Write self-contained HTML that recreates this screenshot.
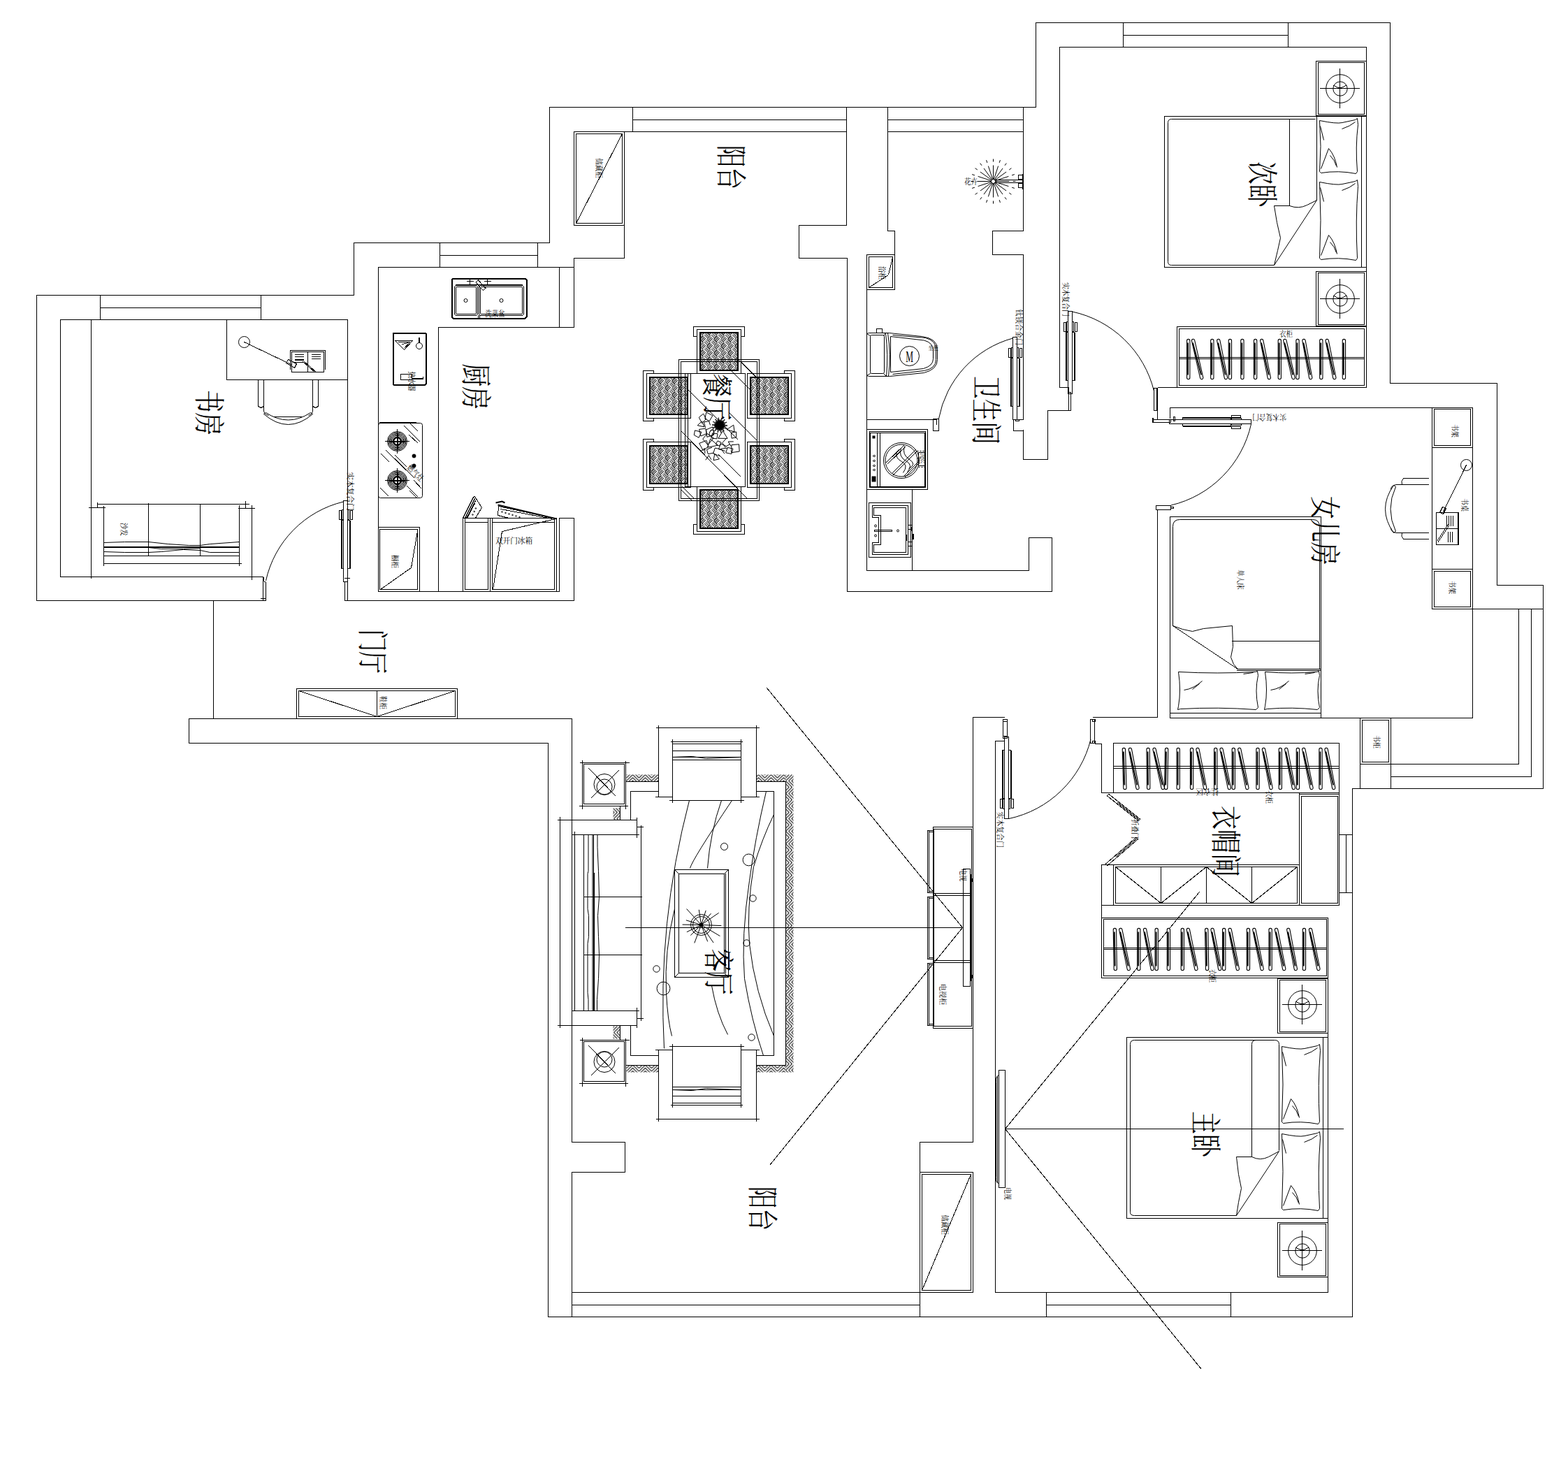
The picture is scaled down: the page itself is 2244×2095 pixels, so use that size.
<!DOCTYPE html>
<html><head><meta charset="utf-8"><title>Floor plan</title>
<style>html,body{margin:0;padding:0;background:#fff;font-family:"Liberation Sans",sans-serif}svg{display:block}</style>
</head><body>
<svg width="2244" height="2095" viewBox="0 0 2244 2095">
<defs>
<pattern id="bw" width="14.14" height="14.14" patternUnits="userSpaceOnUse" patternTransform="translate(1001,475) rotate(45)">
<rect width="14.14" height="14.14" fill="#fff"/>
<path d="M0,0.20H7.07M7.07,7.27H14.14M7.27,0V7.07M0.20,7.07V14.14M0,2.56H7.07M7.07,9.63H14.14M9.63,0V7.07M2.56,7.07V14.14M0,4.91H7.07M7.07,11.98H14.14M11.98,0V7.07M4.91,7.07V14.14" stroke="#000" stroke-width="1.1" fill="none"/>
</pattern>
<pattern id="hz" width="18" height="4.24" patternUnits="userSpaceOnUse" patternTransform="translate(896,1108)"><path d="M0,-3.72L9,-12.72L18,-3.72M0,0.52L9,-8.48L18,0.52M0,4.76L9,-4.24L18,4.76M0,9.00L9,0.00L18,9.00M0,13.24L9,4.24L18,13.24" stroke="#000" stroke-width="1" fill="none"/></pattern>
<pattern id="hz2" width="4.24" height="18" patternUnits="userSpaceOnUse" patternTransform="translate(1124,1108)"><path d="M-3.72,0L-12.72,9L-3.72,18M0.52,0L-8.48,9L0.52,18M4.76,0L-4.24,9L4.76,18M9.00,0L0.00,9L9.00,18M13.24,0L4.24,9L13.24,18" stroke="#000" stroke-width="1" fill="none"/></pattern>
</defs>
<rect width="2244" height="2095" fill="#fff"/>
<g transform="translate(0.5,0.5)" fill="none" stroke="#000" stroke-width="1">
<g shape-rendering="crispEdges">
<path stroke-linecap="square" d="M52,422V859M52,422H506M506,347V422M52,859H380M86,457V825M86,457H497M86,825H376M130,457V827M143,422V457M373,422V457M143,440H373M497,457V718M506,347H786M786,153V347M629,347V382M769,347V382M629,365H769M541,382H821M541,382V846M821,369V468M800,382V468M627,468H821M627,468V846M541,846H800M494,859H821M821,741V859M800,741V846M800,741H821M786,153H1482M1482,32V153M905,153V188M1211,153V322M905,171H1211M821,188H1211M893,188V369M821,369H893M1143,322H1211M1143,322V369M1143,369H1212M1212,369V846M1270,153V330M1270,330H1280M1280,330V364M1270,171H1464M1270,188H1464M1464,153V330M1420,330H1464M1420,330V364M1420,364H1464M1464,364V600M1464,615V657M1464,657H1499M1499,587V657M1499,587H1532M1240,364V816M1240,364H1280M1212,846H1505M1505,769V846M1472,769H1505M1472,769V816M1240,816H1472M1240,600H1339M1305,700V816M1482,32H1989M1989,32V548M1989,548H2142M2142,548V837M2142,837H2208M2208,837V1128M1935,1128H2208M1935,1128V1884M784,1884H1935M1516,67V554M1516,67H1955M1955,67V554M1657,554H1955M1607,32V67M1843,32V67M1607,50H1843M1516,554H1528M1674,583H2107M2107,583V1027M1674,1027H2107M1674,583V598M1674,739V1027M1656,729V1026M1564,1026H1656M2049,871H2208M2173,871V1093M2191,871V1111M1990,1093H2173M1990,1111H2191M1990,1027V1128M1946,1027V1128M1946,1027H1990M1392,1026H1437M1392,1026V1634M1424,1060V1849M1424,1060H1437M1567,1064H1576M1576,1064V1134M1576,1134H1916M1916,1063V1295M1859,1134V1295M1916,1194H1935M1916,1277H1935M1926,1194V1277M1576,1295H1916M1576,1237V1399M1576,1237H1859M1900,1313V1849M1424,1849H1900M1497,1849V1884M1761,1849V1884M1497,1867H1761M818,1028V1634M784,1063V1884M818,1634H894M894,1634V1677M818,1677H894M818,1677V1884M1316,1634H1392M1316,1634V1884M1392,1677V1849M818,1849H1316M818,1867H1316M305,859V1028M270,1028H818M270,1028V1063M270,1063H784M324,457H497V543H324ZM497,457V859M417,503H463V532H417ZM440,503V532M422,507H434M422,510H434M422,514H434M422,518H434M422,515H434M446,507H458M446,510H458M446,513H458M369,543V581M377,543V587M447,543V587M455,543V581M392,596H431M139,721H356M139,719V726M351,717V727M127,726H150M148,724V809M341,727H364M342,723V809M360,723V829M212,720V795M286,721V795M148,795H342M148,806H345M148,782H342M148,783H342M376,826V859M373,856H380M493,832H497V859H493ZM493,827H500M652,407H747M668,402H677M672,399V406M693,402H702M697,399V406M684,451V455M686,451V455M564,551H607M599,483V490M600,483V490M573,535H589V543H573ZM589,541H605M589,542H605M605,539V542M543,604H595M543,605H595M551,631H585M568,614V648M551,687H585M568,670V704M541,754H600V846H541ZM543,757H597V843H543ZM662,741H796V846H662ZM665,741V843M665,747H698M704,747H793M698,741V843M701,741V846M704,741V843M793,741V843M665,843H698M704,843H793M821,188H893V322H821ZM824,191H890V319H824ZM997,471H1060V534H997ZM997,696H1060V760H997ZM925,534H988V598H925ZM1069,534H1132V598H1069ZM925,632H988V697H925ZM1069,632H1132V697H1069ZM971,514H1086V716H971ZM974,517H1083V713H974ZM980,534H1066V696H980ZM984,534V696M1240,364H1280V414H1240ZM1243,367H1277V411H1243ZM1424,257H1464M1424,261H1464M1457,250H1464V256H1457ZM1457,262H1464V268H1457ZM1254,470H1262V476H1254ZM1240,614H1327V700H1240ZM1244,617H1324V697H1244ZM1245,619H1323V696H1245ZM1255,619V696M1259,619V696M1314,647H1323V666H1314ZM1243,719H1303V797H1243ZM1251,758H1276V760H1251ZM1299,751H1305V757H1299ZM1299,775H1305V781H1299ZM1297,765V773M1335,599H1343V616H1335ZM1340,599V607M1453,600H1458V602H1453ZM1455,600H1464M1457,616H1464M1529,561H1532V587H1529ZM1516,554H1529M1529,554V561M1651,555H1656V587H1651ZM1655,555V587M1656,555V600M1649,600H1675V604H1649ZM1649,598V604M1650,598V604M1679,596H1681V602H1679ZM1654,723H1675V729H1654ZM1675,725H1679V727H1675ZM1883,87H1955V165H1883ZM1886,89H1952V163H1886ZM1889,126H1945M1917,98V154M1883,388H1955V466H1883ZM1886,390H1952V464H1886ZM1889,427H1945M1917,399V455M1666,166H1955V382H1666ZM1948,166V382M1884,166V286M1845,170V294M1684,467H1955V554H1684ZM1687,470H1952V551H1687ZM2049,583V871M2049,583H2107V640H2049ZM2052,585H2104V637H2052ZM2049,814H2107V871H2049ZM2052,817H2104V868H2052ZM2055,733H2087V779H2055ZM2055,756H2087M2086,734V779M2070,738V752M2073,738V752M2076,738V752M2079,738V752M2072,761V775M2075,761V775M2078,761V775M1998,693H2044M1998,762H2044M2008,684H2044M2008,771H2044M1674,739H1890V1027H1674ZM1674,1020H1890M1770,957H1890M1770,959H1890M1763,917H1888M1946,1027H1990V1093H1946ZM1949,1030H1987V1090H1949ZM1593,1063H1916V1134H1593ZM1859,1136H1916V1295H1859ZM1862,1139H1914V1292H1862ZM1593,1237V1295M1596,1240H1856V1292H1596ZM1661,1240V1292M1726,1240V1292M1791,1240V1292M1576,1313H1900V1399H1576ZM1579,1315H1898V1396H1579ZM1435,1029H1441V1056H1435ZM1435,1029H1441V1032H1435ZM1435,1053H1441V1056H1435ZM1560,1029H1566V1063H1560ZM1563,1029H1567V1032H1563ZM1563,1060H1567V1063H1563ZM1828,1400H1900V1478H1828ZM1831,1402H1897V1476H1831ZM1835,1437H1891M1863,1409V1465M1828,1749H1900V1827H1828ZM1831,1751H1897V1825H1831ZM1835,1789H1891M1863,1761V1817M1612,1484H1900V1743H1612ZM1893,1484V1743M1429,1531H1438V1699H1429ZM1438,1615H1922M895,1327H1377M1335,1183H1392V1471H1335ZM1336,1186H1390M1390,1186V1468M1336,1468H1390M1336,1186V1468M1335,1278H1389M1335,1281H1389M1335,1374H1389M1335,1377H1389M1327,1188V1277M1329,1188V1277M1327,1188H1335M1327,1277H1335M1329,1190H1335M1329,1275H1335M1327,1283V1372M1329,1283V1372M1327,1283H1335M1327,1372H1335M1329,1285H1335M1329,1370H1335M1327,1378V1467M1329,1378V1467M1327,1378H1335M1327,1467H1335M1329,1380H1335M1329,1465H1335M1378,1243H1388V1411H1378ZM1389,1251V1403M830,1091H900M829,1153H898M833,1088V1157M895,1089V1157M835,1093H893V1150H835ZM830,1488H900M829,1550H898M833,1485V1554M895,1486V1554M835,1490H893V1547H835ZM896,1118H942M1082,1118H1124M1124,1118V1524M1082,1524H1124M896,1524H942M887,1153V1173M887,1468V1488M902,1132H942M902,1132V1173M1082,1132H1107M1107,1132V1510M1082,1510H1107M902,1510H942M902,1468V1510M801,1169V1470M798,1173H911M819,1194H914M911,1170V1198M917,1181V1460M912,1183H920M798,1467H911M819,1446H914M911,1442V1470M912,1457H920M835,1283H918M835,1366H918M822,1190V1446M835,1194V1446M849,1194V1248M939,1041H1086M942,1038V1140M1082,1038V1140M938,1140H962M1060,1140H1086M962,1058V1148M1060,1058V1148M958,1145H1064M960,1061H1062M962,1064H1060M962,1074H1060M962,1083H1060M962,1087H1060M939,1601H1086M942,1604V1502M1082,1604V1502M938,1502H962M1060,1502H1086M962,1584V1494M1060,1584V1494M958,1497H1064M960,1581H1062M962,1578H1060M962,1568H1060M962,1559H1060M962,1555H1060M965,1244H1042V1398H965ZM971,1250H1036V1392H971ZM1038,1250V1392M424,985H654V1028H424ZM427,988H651V1025H427ZM539,988V1025M1316,1677H1392V1849H1316ZM1319,1680H1389V1846H1319Z"/>
<path d="M349,489L418,522M409,519L412,514L424,520L421,526ZM415,528L415,501L465,501L465,528M433,517L450,532M435,517L452,532M369,581L373,583L377,581M447,581L451,583L455,581M377,825L377,831L380,833L380,859M652,408L681,408L683,410L683,449L681,451L652,451L650,449L650,410ZM653,410L680,410L681,411L681,448L680,449L653,449L652,448L652,411ZM687,408L747,408L749,410L749,449L747,451L687,451L685,449L685,410ZM688,410L746,410L747,411L747,448L746,449L688,449L687,448L687,411ZM683.9,400.3L680.4,403.5L690.9,415.1L694.4,411.9ZM565,487L590,487L578,500ZM569,489L586,489L578,498M575,492L584,490M578,609L601,632M587,606L598,617M585,622L598,634M552,644L593,684M545,649L557,661M565,651L580,666M567,653L582,668M592,687L603,699M544,698L556,710M582,695L598,711M586,702L596,712M544,843L588,812L597,760M662,741L677,711L679,710L689,726L680,741M665,741L679,713M667,741L680,716M668,741L679,720M713,724L712,737L728,741M713,724L796,742M716,728L790,742M795,742L718,760L705,843M890,191L824,319M992,481L992,467L1065,467L1065,481L1060,481L1060,471L997,471L997,481ZM992,750L992,764L1065,764L1065,750L1060,750L1060,760L997,760L997,750ZM935,530L920,530L920,602L935,602L935,598L925,598L925,534L935,534ZM1122,530L1137,530L1137,602L1122,602L1122,598L1132,598L1132,534L1122,534ZM935,628L920,628L920,701L935,701L935,697L925,697L925,632L935,632ZM1122,628L1137,628L1137,701L1122,701L1122,697L1132,697L1132,632L1122,632ZM1056,514L1086,544M1060,517L1083,540M1046,530L1078,562M983,556L1056,629M975,617L1069,713M1043,590L1083,630M1028,650L1060,682M974,700L990,716M976,696L993,713M1243,411L1271,393L1277,368M1249,652L1250.5,650.5L1252,652L1250.5,653.5ZM1249,659L1250.5,657.5L1252,659L1250.5,660.5ZM1249,666L1250.5,664.5L1252,666L1250.5,667.5ZM1249,672L1250.5,670.5L1252,672L1250.5,673.5ZM1268,661L1294,636M1270,663L1296,638M1275,678L1310,643M1277,680L1312,645M1292,682L1314,660M1294,683L1315,662M1248,723L1299,723L1299,793L1248,793L1248,776L1257,776L1257,740L1248,740ZM1250,726L1296,726L1296,790L1250,790L1250,779L1260,779L1260,737L1250,737ZM1450,599L1450,616L1457,616M1917,126L1926,122M1917,126L1908,122M1917,427L1926,423M1917,427L1908,423M2098,665L2065,732M2060,733L2064,725L2069,727L2065,735ZM2072,750L2056,774M2073,752L2057,776M1678,895L1771,957M1596,1240L1661,1292M1661,1292L1726,1240M1726,1240L1791,1292M1791,1292L1856,1240M1583.9,1138.3L1628.9,1174.3L1631.1,1171.7L1586.1,1135.7ZM1598.5,1147.8L1630,1173M1584.1,1238.3L1628.1,1200.3L1625.9,1197.7L1581.9,1235.7ZM1596.2,1225.6L1627,1199M1863,1437L1872,1433M1863,1437L1854,1433M1863,1789L1872,1785M1863,1789L1854,1785M1438,1615L1716,1276M1438,1615L1719,1959M1377,1327L1097,984M1377,1327L1101,1667M842,1099L881,1139M885,1102L845,1142M842,1496L881,1536M885,1499L845,1539M965,1244L971,1250M1042,1244L1036,1250M965,1398L971,1392M1042,1398L1036,1392M427,988L539,1025M539,1025L651,988M1389,1680L1319,1846"/>
</g>
<g>
<circle cx="349" cy="489" r="8"/>
<path d="M377,587Q377,592 384,594 M447,587Q447,592 441,594"/>
<path d="M377,592Q412,622 447,592 M380,590Q412,611 444,590 M377,592L380,590 M447,592L444,590"/>
<path d="M148,776L178,775L212,775L240,778L270,780L286,780L300,778L342,775"/>
<path d="M148,789L178,790L212,790L230,789L262,786L286,787L300,790L342,790"/>
<path d="M212,783L230,785L262,785L286,784"/>
<circle cx="666" cy="429.5" r="2.5"/>
<circle cx="717" cy="429.5" r="2.5"/>
<circle cx="599.5" cy="494.5" r="4.5"/>
<rect x="541" y="605" width="63" height="107" rx="3"/>
<circle cx="568" cy="631" r="14"/>
<circle cx="568" cy="631" r="12.5"/>
<circle cx="568" cy="631" r="11"/>
<circle cx="568" cy="631" r="9.5"/>
<circle cx="568" cy="631" r="8"/>
<circle cx="568" cy="687" r="14"/>
<circle cx="568" cy="687" r="12.5"/>
<circle cx="568" cy="687" r="11"/>
<circle cx="568" cy="687" r="9.5"/>
<circle cx="568" cy="687" r="8"/>
<circle cx="676.0" cy="736.0" r="0.8"/>
<circle cx="678.2" cy="731.5" r="0.8"/>
<circle cx="680.4" cy="727.0" r="0.8"/>
<circle cx="718" cy="732.0" r="0.8"/>
<circle cx="723" cy="733.5" r="0.8"/>
<circle cx="728" cy="735.0" r="0.8"/>
<circle cx="733" cy="736.5" r="0.8"/>
<circle cx="738" cy="738.0" r="0.8"/>
<circle cx="743" cy="739.5" r="0.8"/>
<circle cx="1421" cy="259" r="3"/>
<path d="M1240,477L1243,476H1272L1319,481Q1341,484 1341,499V514Q1341,528 1322,533L1273,538H1243L1240,537"/>
<rect x="1245" y="479" width="20" height="55" rx="2"/>
<path d="M1240,477L1245,480M1240,537L1245,534M1267,476L1264,480M1268,538L1264,534"/>
<path d="M1267,477Q1271,507 1268,538M1270,476Q1275,507 1271,538"/>
<path d="M1277,479L1324,483Q1339,487 1339,499V514Q1339,527 1322,530L1277,535"/>
<path d="M1274,481V532L1321,527Q1335,523 1335,513V501Q1335,490 1322,486.5Z"/>
<circle cx="1301" cy="509" r="14"/>
<circle cx="1289.5" cy="658.5" r="25.5"/>
<circle cx="1289.5" cy="658.5" r="23"/>
<path d="M1283,646Q1280,655 1290,660T1292,676M1289,641Q1285,653 1296,659T1298,675M1294,638Q1290,650 1301,657T1300,670"/>
<circle cx="1252.5" cy="752" r="1.5"/>
<circle cx="1252.5" cy="766" r="1.5"/>
<circle cx="1284.5" cy="759" r="1.5"/>
<circle cx="1917.5" cy="126.5" r="20.3"/>
<circle cx="1917.5" cy="126.5" r="10.2"/>
<circle cx="1917.5" cy="427.5" r="20.3"/>
<circle cx="1917.5" cy="427.5" r="10.2"/>
<path d="M1882,170H1676Q1671,170 1671,175V374Q1671,379 1676,379H1823"/>
<path d="M1823,294H1845Q1858,299 1870,293L1884,286L1823,379"/>
<path d="M1823,294L1827,318L1832,340L1828,358L1823,379"/>
<path d="M1888,172Q1912.3,177 1920.4,175L1939,171L1942,169L1943,178Q1939,209.5 1942,245L1940,248Q1915.0,243 1890,247L1888,245Q1891,209.5 1888,172Z"/>
<path d="M1890,241L1901,212Q1910,222 1913,239M1903,222Q1910,229 1912,237"/>
<path d="M1939,174Q1932,180 1920,184M1889,180L1894,200"/>
<path d="M1888,260Q1912.3,265 1920.4,263L1939,259L1942,257L1943,266Q1939,315.5 1942,369L1940,372Q1915.0,367 1890,371L1888,369Q1891,315.5 1888,260Z"/>
<path d="M1890,365L1901,336Q1910,346 1913,363M1903,346Q1910,353 1912,361"/>
<path d="M1939,262Q1932,268 1920,272M1889,268L1894,288"/>
<circle cx="2098" cy="665" r="8"/>
<path d="M2008,684Q2004,688 2006,693M2008,771Q2004,767 2006,762"/>
<path d="M1998,693Q1990,694 1990,700M1998,762Q1990,761 1990,755"/>
<path d="M1994,694Q1970,728 1994,762M1997,696Q1982,728 1997,760M1994,694L1997,696M1994,762L1997,760"/>
<path d="M1678,895V753Q1678,743 1688,743H1878Q1888,743 1888,753V957"/>
<path d="M1678,895L1692,900L1706,903L1722,899L1763,895L1764,925L1761,940L1765,950L1771,957"/>
<path d="M1686,961Q1742.5,964 1796,961L1799,960L1800,966Q1795,987.5 1800,1012L1797,1015Q1742.5,1011 1689,1014L1685,1015L1686,1010Q1690,987.5 1686,961Z"/>
<path d="M1694,987Q1708,985 1720,974M1706,986L1716,978M1779,964L1793,962"/>
<path d="M1810,961Q1848.5,964 1884,961L1887,960L1888,966Q1883,987.5 1888,1012L1885,1015Q1848.5,1011 1813,1014L1809,1015L1810,1010Q1814,987.5 1810,961Z"/>
<path d="M1818,987Q1832,985 1844,974M1830,986L1840,978M1867,964L1881,962"/>
<circle cx="1863.5" cy="1437.5" r="20.3"/>
<circle cx="1863.5" cy="1437.5" r="10.2"/>
<circle cx="1863.5" cy="1789.5" r="20.3"/>
<circle cx="1863.5" cy="1789.5" r="10.2"/>
<path d="M1830,1646V1494Q1830,1488 1824,1488H1623Q1617,1488 1617,1494V1734Q1617,1739 1623,1739H1769"/>
<path d="M1791,1655V1494Q1791,1488 1797,1488"/>
<path d="M1769,1655H1791Q1803,1661 1815,1655L1830,1647L1769,1739"/>
<path d="M1769,1655L1772,1680L1776,1700L1772,1720L1769,1739"/>
<path d="M1834,1497Q1858.3,1502 1866.4,1500L1885,1496L1888,1494L1889,1503Q1885,1552.0 1888,1605L1886,1608Q1861.0,1603 1836,1607L1834,1605Q1837,1552.0 1834,1497Z"/>
<path d="M1836,1601L1847,1572Q1856,1582 1859,1599M1849,1582Q1856,1589 1858,1597"/>
<path d="M1885,1499Q1878,1505 1866,1509M1835,1505L1840,1525"/>
<path d="M1834,1622Q1858.3,1627 1866.4,1625L1885,1621L1888,1619L1889,1628Q1885,1676.5 1888,1729L1886,1732Q1861.0,1727 1836,1731L1834,1729Q1837,1676.5 1834,1622Z"/>
<path d="M1836,1725L1847,1696Q1856,1706 1859,1723M1849,1706Q1856,1713 1858,1721"/>
<path d="M1885,1624Q1878,1630 1866,1634M1835,1630L1840,1650"/>
<path d="M1429,1538Q1424,1540 1425,1548V1684Q1424,1692 1429,1693M1427,1540V1692"/>
<circle cx="864.5" cy="1122" r="15"/>
<circle cx="864.5" cy="1125.5" r="11"/>
<circle cx="864.5" cy="1519" r="15"/>
<circle cx="864.5" cy="1515.5" r="11"/>
<path d="M841.5,1194V1246L840.5,1250V1300L842,1310V1340L840.5,1350V1420L841.5,1430V1446"/>
<path d="M847.5,1194V1446"/>
<path d="M854.5,1194V1212L856,1246L857,1283L855,1310L856,1340L857,1366L856,1400L854,1430V1446"/>
<path d="M962,1083L990,1082L1010,1085L1060,1083"/>
<path d="M962,1559L990,1560L1010,1557L1060,1559"/>
<circle cx="1003" cy="1323" r="15"/>
<circle cx="1003" cy="1323" r="12"/>
<circle cx="1036" cy="1211" r="5"/>
<circle cx="1071" cy="1230" r="8.4"/>
<circle cx="1077" cy="1285" r="4.7"/>
<circle cx="1068" cy="1349" r="4.7"/>
<circle cx="939" cy="1386" r="4.7"/>
<circle cx="949" cy="1414" r="9.4"/>
<circle cx="1075" cy="1484" r="4.7"/>
<path d="M986,1145Q940,1320 950,1500"/>
<path d="M1047,1145Q990,1230 987,1242"/>
<path d="M1032,1145Q1016,1190 1012,1242"/>
<path d="M1096,1132Q1080,1200 1072,1260Q1060,1340 1065,1400Q1075,1460 1092,1510"/>
<path d="M1107,1165Q1090,1200 1078,1240Q1068,1300 1072,1350Q1080,1420 1107,1482"/>
<path d="M1018,1410Q1025,1450 1041,1480"/>
<path d="M965,1300Q950,1360 953,1420Q955,1460 961,1482"/>
</g>
<path shape-rendering="crispEdges" transform="matrix(0,-1,-1,0,491,830)" d="M-2,0H114V-6H-2ZM17,0V3.5M86,0V3.5M17,-6V-9.5M86,-6V-9.5M87,0V2H101V0M87,3.5H100V6.5H87ZM87,-6V-8H101V-6M87,-9.5H100V-12.5H87Z"/><path shape-rendering="crispEdges" stroke-width="2" transform="matrix(0,-1,-1,0,491,830)" d="M17,3H86M17,-9H86"/>
<path d="M491,717.5A149.4,149.4 0 0 0 380,830.5"/>
<path shape-rendering="crispEdges" stroke-width="2" d="M648,398H751L753,400V453L751,455H648L646,453V400Z"/>
<path shape-rendering="crispEdges" stroke-width="2" d="M563,476H608L609,477V549L608,550H563L562,549V477Z"/>
<circle cx="568" cy="631" r="5.5" stroke-width="2.5"/>
<path shape-rendering="crispEdges" stroke-width="2" d="M557,631H579M568,620V642"/>
<circle cx="568" cy="687" r="5.5" stroke-width="2.5"/>
<path shape-rendering="crispEdges" stroke-width="2" d="M557,687H579M568,676V698"/>
<circle cx="592" cy="652" r="2.5" fill="#000"/><circle cx="592" cy="666" r="2.5" fill="#000"/>
<path stroke-width="2" d="M712,722L796,742M709,719L718,717L722,719"/>
<rect x="1001" y="475" width="55" height="55" fill="url(#bw)" stroke="none"/><rect x="1001.5" y="475.5" width="54" height="54" stroke-width="2" shape-rendering="crispEdges"/>
<rect x="1001" y="700" width="55" height="56" fill="url(#bw)" stroke="none"/><rect x="1001.5" y="700.5" width="54" height="55" stroke-width="2" shape-rendering="crispEdges"/>
<rect x="929" y="539" width="55" height="54" fill="url(#bw)" stroke="none"/><rect x="929.5" y="539.5" width="54" height="53" stroke-width="2" shape-rendering="crispEdges"/>
<rect x="1073" y="539" width="55" height="54" fill="url(#bw)" stroke="none"/><rect x="1073.5" y="539.5" width="54" height="53" stroke-width="2" shape-rendering="crispEdges"/>
<rect x="929" y="637" width="55" height="55" fill="url(#bw)" stroke="none"/><rect x="929.5" y="637.5" width="54" height="54" stroke-width="2" shape-rendering="crispEdges"/>
<rect x="1073" y="637" width="55" height="55" fill="url(#bw)" stroke="none"/><rect x="1073.5" y="637.5" width="54" height="54" stroke-width="2" shape-rendering="crispEdges"/>
<path shape-rendering="crispEdges" d="M971,514H1086V716H971ZM974,517H1083V713H974ZM980,534H1066V696H980ZM984,534V696"/>
<path d="M1029.5,608L1040.5,608.5M1029.5,608L1037.2,610.2M1029.5,608L1039.2,613.3M1029.5,608L1035.5,613.3M1029.5,608L1035.9,616.9M1029.5,608L1032.6,615.4M1029.5,608L1031.4,618.8M1029.5,608L1029.1,616.0M1029.5,608L1026.5,618.6M1029.5,608L1025.7,615.0M1029.5,608L1022.2,616.2M1029.5,608L1023.0,612.7M1029.5,608L1019.4,612.3M1029.5,608L1021.6,609.4M1029.5,608L1018.5,607.5M1029.5,608L1021.8,605.8M1029.5,608L1019.8,602.7M1029.5,608L1023.5,602.7M1029.5,608L1023.1,599.1M1029.5,608L1026.4,600.6M1029.5,608L1027.6,597.2M1029.5,608L1029.9,600.0M1029.5,608L1032.5,597.4M1029.5,608L1033.3,601.0M1029.5,608L1036.8,599.8M1029.5,608L1036.0,603.3M1029.5,608L1039.6,603.7M1029.5,608L1037.4,606.6" stroke-width="1.3"/>
<circle cx="1029.5" cy="608" r="4.5" fill="#000"/>
<path d="M1003.9,605.1L999.8,596.7L1006.1,591.6L1010.1,599.1ZM1008.3,598.7L1010.3,589.5L1019.4,594.2L1014.7,602.1ZM1007.4,610.4L997.7,608.3L1004.1,602.3ZM1009.1,611.5L1006.9,603.4L1014.1,602.2L1016.0,607.9M992.8,622.1L994.0,615.4L1003.4,617.8L999.6,625.8ZM1010.7,620.1L1002.5,623.5L1000.1,613.9L1009.3,612.7ZM1021.2,621.8L1011.3,624.9L1010.1,614.4L1019.6,610.4ZM1005.3,627.7L1011.5,620.0L1020.7,626.4L1012.5,636.2ZM1017.2,626.4L1019.1,619.4L1026.5,620.2L1025.4,627.4ZM1027.3,626.8L1034.0,616.1L1040.6,626.9ZM1039.5,614.3L1049.3,607.7L1050.6,617.3ZM1046.7,626.7L1045.8,618.6L1053.2,617.5L1053.2,625.3ZM1005.8,644.3L1000.2,633.9L1010.5,629.9L1013.4,638.3ZM1026.9,636.7L1011.9,639.8L1016.1,627.7ZM1023.8,635.0L1026.6,630.3L1031.6,632.8L1029.1,637.7ZM1044.5,634.7L1037.0,639.4L1033.3,633.2L1038.7,627.2M1046.0,638.6L1041.7,631.5L1049.3,631.4M1046.1,647.2L1046.5,636.2L1057.0,635.3L1057.7,645.5ZM1001.3,645.7L1008.2,641.1L1008.3,648.4M1021.0,647.6L1012.8,649.2L1011.0,642.7L1018.6,639.7M1029.2,652.0L1020.2,648.5L1022.8,640.5L1031.6,642.7M1036.5,648.8L1031.3,641.7L1040.6,640.6M1038.2,647.3L1040.8,639.9L1048.5,641.6L1046.3,649.1ZM1009.3,657.8L1013.9,651.1L1017.4,657.4M1028.9,656.4L1020.5,658.2L1022.4,648.8ZM1037.2,644.9L1027.9,642.2L1031.0,634.6L1038.3,637.5"/>
<ellipse cx="1018" cy="619" rx="3" ry="4.5" transform="rotate(25 1018 619)"/>
<path d="M1424.0,259.0L1444.0,259.0M1449.0,259.0L1453.0,259.0M1423.9,259.9L1442.9,266.1M1447.6,267.7L1451.4,268.9M1423.4,260.8L1439.6,272.5M1443.7,275.5L1446.9,277.8M1422.8,261.4L1434.5,277.6M1437.5,281.7L1439.8,284.9M1421.9,261.9L1428.1,280.9M1429.7,285.6L1430.9,289.4M1421.0,262.0L1421.0,282.0M1421.0,287.0L1421.0,291.0M1420.1,261.9L1413.9,280.9M1412.3,285.6L1411.1,289.4M1419.2,261.4L1407.5,277.6M1404.5,281.7L1402.2,284.9M1418.6,260.8L1402.4,272.5M1398.3,275.5L1395.1,277.8M1418.1,259.9L1399.1,266.1M1394.4,267.7L1390.6,268.9M1418.0,259.0L1398.0,259.0M1393.0,259.0L1389.0,259.0M1418.1,258.1L1399.1,251.9M1394.4,250.3L1390.6,249.1M1418.6,257.2L1402.4,245.5M1398.3,242.5L1395.1,240.2M1419.2,256.6L1407.5,240.4M1404.5,236.3L1402.2,233.1M1420.1,256.1L1413.9,237.1M1412.3,232.4L1411.1,228.6M1421.0,256.0L1421.0,236.0M1421.0,231.0L1421.0,227.0M1421.9,256.1L1428.1,237.1M1429.7,232.4L1430.9,228.6M1422.8,256.6L1434.5,240.4M1437.5,236.3L1439.8,233.1M1423.4,257.2L1439.6,245.5M1443.7,242.5L1446.9,240.2M1423.9,258.1L1442.9,251.9M1447.6,250.3L1451.4,249.1"/>
<path shape-rendering="crispEdges" stroke-width="2" d="M1463,248V270"/>
<text x="0" y="0" font-family="Liberation Serif" font-size="22" fill="#000" stroke="none" text-anchor="middle" transform="translate(1301,517) scale(0.55,1.05)">M</text>
<rect x="1248" y="623" width="4" height="4" fill="#000" stroke="none"/><rect x="1247" y="681" width="6" height="8" fill="#000" stroke="none"/>
<path stroke-dasharray="2,2" d="M1312,645H1323M1312,655H1323M1314,668H1323"/>
<path shape-rendering="crispEdges" stroke-width="2" d="M1304,753V759M1306,763V771"/>
<path shape-rendering="crispEdges" transform="matrix(0,-1,-1,0,1449,598)" d="M-2,0H116V-6H-2ZM17,0V3.5M86,0V3.5M17,-6V-9.5M86,-6V-9.5M87,0V2H101V0M87,3.5H100V6.5H87ZM87,-6V-8H101V-6M87,-9.5H100V-12.5H87Z"/><path shape-rendering="crispEdges" stroke-width="2" transform="matrix(0,-1,-1,0,1449,598)" d="M17,3H86M17,-9H86"/>
<path d="M1449,483.5A147.6,147.6 0 0 0 1343,598.5"/>
<path shape-rendering="crispEdges" transform="matrix(0,-1,1,0,1534,561)" d="M-2,0H116V-6H-2ZM17,0V3.5M86,0V3.5M17,-6V-9.5M86,-6V-9.5M87,0V2H101V0M87,3.5H100V6.5H87ZM87,-6V-8H101V-6M87,-9.5H100V-12.5H87Z"/><path shape-rendering="crispEdges" stroke-width="2" transform="matrix(0,-1,1,0,1534,561)" d="M17,3H86M17,-9H86"/>
<path d="M1534,445.5A153.8,153.8 0 0 1 1651,559"/>
<path shape-rendering="crispEdges" transform="matrix(1,0,0,1,1675,606)" d="M-2,0H115V-6H-2ZM17,0V3.5M86,0V3.5M17,-6V-9.5M86,-6V-9.5M87,0V2H101V0M87,3.5H100V6.5H87ZM87,-6V-8H101V-6M87,-9.5H100V-12.5H87Z"/><path shape-rendering="crispEdges" stroke-width="2" transform="matrix(1,0,0,1,1675,606)" d="M17,3H86M17,-9H86"/>
<path d="M1790,606.5A153.8,153.8 0 0 1 1675.5,722.5"/>
<path d="M1700.2,487L1700.2,540M1707.1,487L1719.2,540M1734.3,487L1734.3,540M1743.3,487L1753.9,540M1759.9,487L1759.9,540M1777.4,487L1777.4,540M1796.1,487L1796.1,540M1805.2,487L1815.8,540M1830.8,487L1830.8,540M1838.4,487L1850.5,540M1856.5,487L1856.5,540M1865.5,487L1875.2,540M1890.3,487L1890.3,540M1898.7,487L1909.3,540M1922.9,487L1922.9,540" stroke-width="5.4" stroke-linecap="round"/><path d="M1700.2,487L1700.2,540M1707.1,487L1719.2,540M1734.3,487L1734.3,540M1743.3,487L1753.9,540M1759.9,487L1759.9,540M1777.4,487L1777.4,540M1796.1,487L1796.1,540M1805.2,487L1815.8,540M1830.8,487L1830.8,540M1838.4,487L1850.5,540M1856.5,487L1856.5,540M1865.5,487L1875.2,540M1890.3,487L1890.3,540M1898.7,487L1909.3,540M1922.9,487L1922.9,540" stroke="#fff" stroke-width="3.2" stroke-linecap="round"/><path d="M1699.6,490L1699.6,536M1706.5,490L1718.6,536M1733.7,490L1733.7,536M1742.7,490L1753.3,536M1759.3,490L1759.3,536M1776.8,490L1776.8,536M1795.5,490L1795.5,536M1804.6,490L1815.2,536M1830.2,490L1830.2,536M1837.8,490L1849.9,536M1855.9,490L1855.9,536M1864.9,490L1874.6,536M1889.7,490L1889.7,536M1898.1,490L1908.7,536M1922.3,490L1922.3,536" stroke-width="1.8"/>
<path shape-rendering="crispEdges" d="M1687,511H1952M1687,513H1952"/>
<path d="M1607.9,1072L1609.4,1127M1616.9,1072L1627.5,1127M1642.6,1072L1643.2,1127M1651.6,1072L1663.7,1127M1669.1,1072L1668.2,1127M1685.7,1072L1685.7,1127M1705.1,1072L1705.1,1127M1713.5,1072L1724.1,1127M1739.2,1072L1739.2,1127M1747.6,1072L1758.8,1127M1764.8,1072L1764.8,1127M1773.3,1072L1784.4,1127M1799.5,1072L1799.5,1127M1808.0,1072L1818.5,1127M1831.8,1072L1831.8,1127M1840.3,1072L1850.8,1127M1856.9,1072L1856.9,1127M1865.3,1072L1876.5,1127M1889.5,1072L1889.5,1127M1897.6,1072L1908.2,1127" stroke-width="5.4" stroke-linecap="round"/><path d="M1607.9,1072L1609.4,1127M1616.9,1072L1627.5,1127M1642.6,1072L1643.2,1127M1651.6,1072L1663.7,1127M1669.1,1072L1668.2,1127M1685.7,1072L1685.7,1127M1705.1,1072L1705.1,1127M1713.5,1072L1724.1,1127M1739.2,1072L1739.2,1127M1747.6,1072L1758.8,1127M1764.8,1072L1764.8,1127M1773.3,1072L1784.4,1127M1799.5,1072L1799.5,1127M1808.0,1072L1818.5,1127M1831.8,1072L1831.8,1127M1840.3,1072L1850.8,1127M1856.9,1072L1856.9,1127M1865.3,1072L1876.5,1127M1889.5,1072L1889.5,1127M1897.6,1072L1908.2,1127" stroke="#fff" stroke-width="3.2" stroke-linecap="round"/><path d="M1607.3,1075L1608.8,1123M1616.3,1075L1626.9,1123M1642.0,1075L1642.6,1123M1651.0,1075L1663.1,1123M1668.5,1075L1667.6,1123M1685.1,1075L1685.1,1123M1704.5,1075L1704.5,1123M1712.9,1075L1723.5,1123M1738.6,1075L1738.6,1123M1747.0,1075L1758.2,1123M1764.2,1075L1764.2,1123M1772.7,1075L1783.8,1123M1798.9,1075L1798.9,1123M1807.4,1075L1817.9,1123M1831.2,1075L1831.2,1123M1839.7,1075L1850.2,1123M1856.3,1075L1856.3,1123M1864.7,1075L1875.9,1123M1888.9,1075L1888.9,1123M1897.0,1075L1907.6,1123" stroke-width="1.8"/>
<path shape-rendering="crispEdges" d="M1593,1096H1916M1593,1099H1916"/>
<path d="M1594.9,1330L1595.8,1386M1603.3,1330L1614.8,1386M1629.3,1330L1629.3,1386M1638.1,1330L1648.6,1386M1654.7,1330L1654.7,1386M1671.9,1330L1671.9,1386M1691.8,1330L1691.8,1386M1699.9,1330L1711.4,1386M1726.2,1330L1727.1,1386M1734.6,1330L1745.2,1386M1751.2,1330L1751.2,1386M1759.7,1330L1770.8,1386M1785.9,1330L1785.9,1386M1794.4,1330L1805.6,1386M1817.6,1330L1817.6,1386M1826.1,1330L1837.2,1386M1843.3,1330L1853.8,1386M1865.9,1330L1865.9,1386M1875.0,1330L1886.4,1386" stroke-width="5.4" stroke-linecap="round"/><path d="M1594.9,1330L1595.8,1386M1603.3,1330L1614.8,1386M1629.3,1330L1629.3,1386M1638.1,1330L1648.6,1386M1654.7,1330L1654.7,1386M1671.9,1330L1671.9,1386M1691.8,1330L1691.8,1386M1699.9,1330L1711.4,1386M1726.2,1330L1727.1,1386M1734.6,1330L1745.2,1386M1751.2,1330L1751.2,1386M1759.7,1330L1770.8,1386M1785.9,1330L1785.9,1386M1794.4,1330L1805.6,1386M1817.6,1330L1817.6,1386M1826.1,1330L1837.2,1386M1843.3,1330L1853.8,1386M1865.9,1330L1865.9,1386M1875.0,1330L1886.4,1386" stroke="#fff" stroke-width="3.2" stroke-linecap="round"/><path d="M1594.3,1333L1595.2,1382M1602.7,1333L1614.2,1382M1628.7,1333L1628.7,1382M1637.5,1333L1648.0,1382M1654.1,1333L1654.1,1382M1671.3,1333L1671.3,1382M1691.2,1333L1691.2,1382M1699.3,1333L1710.8,1382M1725.6,1333L1726.5,1382M1734.0,1333L1744.6,1382M1750.6,1333L1750.6,1382M1759.1,1333L1770.2,1382M1785.3,1333L1785.3,1382M1793.8,1333L1805.0,1382M1817.0,1333L1817.0,1382M1825.5,1333L1836.6,1382M1842.7,1333L1853.2,1382M1865.3,1333L1865.3,1382M1874.4,1333L1885.8,1382" stroke-width="1.8"/>
<path shape-rendering="crispEdges" d="M1579,1356H1898M1579,1358H1898"/>
<path shape-rendering="crispEdges" transform="matrix(0,1,1,0,1443,1056)" d="M-2,0H115V-6H-2ZM17,0V3.5M86,0V3.5M17,-6V-9.5M86,-6V-9.5M87,0V2H101V0M87,3.5H100V6.5H87ZM87,-6V-8H101V-6M87,-9.5H100V-12.5H87Z"/><path shape-rendering="crispEdges" stroke-width="2" transform="matrix(0,1,1,0,1443,1056)" d="M17,3H86M17,-9H86"/>
<path d="M1443.5,1171A153.8,153.8 0 0 0 1560.5,1057.5"/>
<path shape-rendering="crispEdges" stroke-width="2" d="M1391,1256V1261M1391,1394V1399"/>
<rect x="896" y="1108" width="46" height="10" fill="url(#hz)" stroke="none"/>
<rect x="1082" y="1108" width="42" height="10" fill="url(#hz)" stroke="none"/>
<rect x="896" y="1524" width="46" height="10" fill="url(#hz)" stroke="none"/>
<rect x="1082" y="1524" width="42" height="10" fill="url(#hz)" stroke="none"/>
<rect x="1124" y="1108" width="11" height="426" fill="url(#hz2)" stroke="none"/>
<rect x="877" y="1156" width="10" height="17" fill="url(#hz2)" stroke="none"/>
<rect x="877" y="1468" width="10" height="18" fill="url(#hz2)" stroke="none"/>
<path shape-rendering="crispEdges" stroke-width="2" d="M849,1248V1446"/>
<circle cx="1003" cy="1323" r="2.5" fill="#000"/>
<path d="M1003,1323L1031.9,1324.1M1003,1323L1029.9,1339.0M1003,1323L1020.6,1348.6M1003,1323L1012.2,1346.9M1003,1323L993.3,1349.0M1003,1323L987.8,1338.0M1003,1323L982.4,1333.2M1003,1323L976.1,1322.6M1003,1323L981.4,1316.3M1003,1323L982.1,1300.1M1003,1323L999.8,1301.3M1003,1323L1009.7,1302.4M1003,1323L1017.0,1306.7M1003,1323L1028.2,1305.8"/>
<g fill="#000" stroke="none" font-family="&quot;Liberation Serif&quot;, &quot;Noto Serif CJK SC&quot;, serif" lengthAdjust="spacingAndGlyphs">
<g font-size="44">
<text transform="translate(282,557.5) rotate(90)" textLength="65" lengthAdjust="spacingAndGlyphs">书房</text>
<text transform="translate(664,520) rotate(90)" textLength="65.5" lengthAdjust="spacingAndGlyphs">厨房</text>
<text transform="translate(1029,207.5) rotate(90)" textLength="63" lengthAdjust="spacingAndGlyphs">阳台</text>
<text transform="translate(1009.5,534.5) rotate(90)" textLength="66.5" lengthAdjust="spacingAndGlyphs">餐厅</text>
<text transform="translate(1394,537.5) rotate(90)" textLength="98" lengthAdjust="spacingAndGlyphs">卫生间</text>
<text transform="translate(1789,230.5) rotate(90)" textLength="65.5" lengthAdjust="spacingAndGlyphs">次卧</text>
<text transform="translate(1879,709.5) rotate(90)" textLength="98.5" lengthAdjust="spacingAndGlyphs">女儿房</text>
<text transform="translate(516,900) rotate(90)" textLength="63.5" lengthAdjust="spacingAndGlyphs">门厅</text>
<text transform="translate(1737,1152.5) rotate(90)" textLength="102" lengthAdjust="spacingAndGlyphs">衣帽间</text>
<text transform="translate(1011,1357) rotate(90)" textLength="66" lengthAdjust="spacingAndGlyphs">客厅</text>
<text transform="translate(1708,1589.5) rotate(90)" textLength="66" lengthAdjust="spacingAndGlyphs">主卧</text>
<text transform="translate(1074,1697.5) rotate(90)" textLength="63" lengthAdjust="spacingAndGlyphs">阳台</text>
</g>
<g font-size="11.5">
<text transform="translate(172.5,747.5) rotate(90)" textLength="19" lengthAdjust="spacingAndGlyphs">沙发</text>
<text transform="translate(496,675.3) rotate(90)" textLength="55" lengthAdjust="spacingAndGlyphs">实木复合门</text>
<text x="693.8" y="452.4" textLength="28.3" lengthAdjust="spacingAndGlyphs">洗菜盆</text>
<text transform="translate(584.5,531) rotate(90)" textLength="28.3" lengthAdjust="spacingAndGlyphs">热水器</text>
<text transform="translate(581.2,669.6) rotate(45)" textLength="28" lengthAdjust="spacingAndGlyphs">燃气灶</text>
<text transform="translate(560.5,793.6) rotate(90)" textLength="19" lengthAdjust="spacingAndGlyphs">橱柜</text>
<text x="708.4" y="777.5" textLength="53.2" lengthAdjust="spacingAndGlyphs">双开门冰箱</text>
<text transform="translate(852.5,226) rotate(90)" textLength="28.3" lengthAdjust="spacingAndGlyphs">储藏柜</text>
<text x="1379.5" y="263.5" textLength="19" lengthAdjust="spacingAndGlyphs">花卉</text>
<text transform="translate(1257.5,380.5) rotate(90)" textLength="19" lengthAdjust="spacingAndGlyphs">浴柜</text>
<text transform="translate(1453,442.1) rotate(90)" textLength="51.4" lengthAdjust="spacingAndGlyphs">钛镁合金门</text>
<text transform="translate(1520.5,403.4) rotate(90)" textLength="49" lengthAdjust="spacingAndGlyphs">实木复合门</text>
<text transform="translate(1840.6,592.5) rotate(180)" textLength="49" lengthAdjust="spacingAndGlyphs">实木复合门</text>
<text x="1830.6" y="481.5" textLength="19" lengthAdjust="spacingAndGlyphs">衣柜</text>
<text transform="translate(1770.5,814.8) rotate(90)" textLength="28.4" lengthAdjust="spacingAndGlyphs">单人床</text>
<text transform="translate(2077.5,606.8) rotate(90)" textLength="18.7" lengthAdjust="spacingAndGlyphs">书架</text>
<text transform="translate(2091.5,712.8) rotate(90)" textLength="18.7" lengthAdjust="spacingAndGlyphs">书桌</text>
<text transform="translate(2073.5,830.8) rotate(90)" textLength="18.7" lengthAdjust="spacingAndGlyphs">书架</text>
<text transform="translate(1965.5,1051.8) rotate(90)" textLength="18.7" lengthAdjust="spacingAndGlyphs">书柜</text>
<text transform="translate(1426,1161.1) rotate(90)" textLength="51.4" lengthAdjust="spacingAndGlyphs">实木复合门</text>
<text transform="translate(1619.5,1171.8) rotate(90)" textLength="28" lengthAdjust="spacingAndGlyphs">折叠门</text>
<text transform="translate(1743.7,1128.6) rotate(180)" textLength="33.3" lengthAdjust="spacingAndGlyphs">挂衣区</text>
<text transform="translate(1811.5,1130.6) rotate(90)" textLength="19" lengthAdjust="spacingAndGlyphs">衣柜</text>
<text transform="translate(1730.5,1386.6) rotate(90)" textLength="19" lengthAdjust="spacingAndGlyphs">衣柜</text>
<text transform="translate(1437.5,1698.5) rotate(90)" textLength="18" lengthAdjust="spacingAndGlyphs">电视</text>
<text transform="translate(1373.5,1242.5) rotate(90)" textLength="18" lengthAdjust="spacingAndGlyphs">电视</text>
<text transform="translate(1344,1407.2) rotate(90)" textLength="30.5" lengthAdjust="spacingAndGlyphs">电视柜</text>
<text transform="translate(543.5,995.6) rotate(90)" textLength="19" lengthAdjust="spacingAndGlyphs">鞋柜</text>
<text transform="translate(1347.5,1738) rotate(90)" textLength="28.3" lengthAdjust="spacingAndGlyphs">储藏柜</text>
</g>
<g font-size="7.5">
<text x="1327.9" y="500" textLength="14.3" lengthAdjust="spacingAndGlyphs">坐便</text>
<text transform="translate(1317,647.4) rotate(90)" textLength="15.3" lengthAdjust="spacingAndGlyphs">洗衣</text>
</g>
</g>
</g>
</svg>
</body></html>
